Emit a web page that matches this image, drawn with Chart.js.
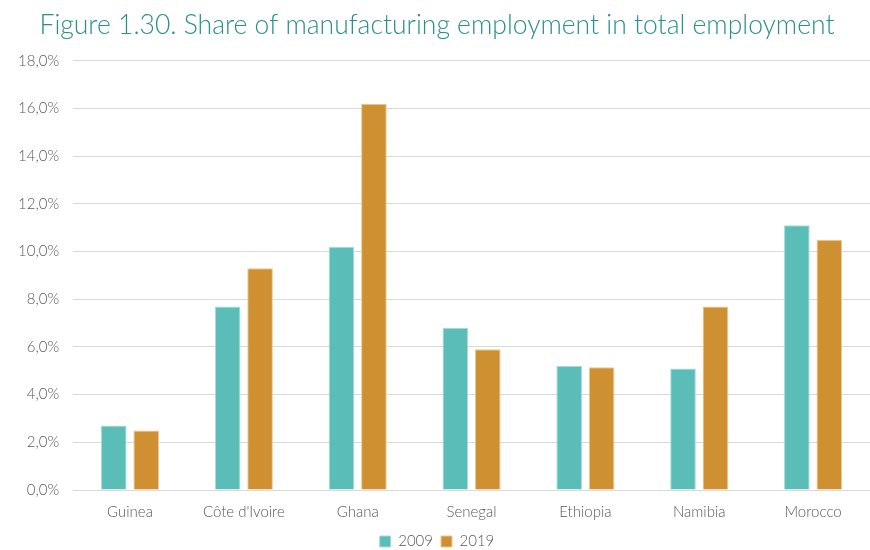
<!DOCTYPE html>
<html>
<head>
<meta charset="utf-8">
<script src="https://cdn.jsdelivr.net/npm/chart.js@4/dist/chart.umd.min.js"></script>
<style>
  html, body { margin: 0; padding: 0; background: #fff; overflow: hidden; }
  #wrap { width: 870px; height: 559px; position: relative; }
</style>
</head>
<body>
<div id="wrap"><canvas id="chart"></canvas></div>
<script>
// Countries on the category axis
const countries = ["Guinea", "Côte d'Ivoire", "Ghana", "Senegal", "Ethiopia", "Namibia", "Morocco"];
// Manufacturing employment as % of total employment
const share2009 = [2.7, 7.7, 10.2, 6.8, 5.2, 5.1, 11.1];
const share2019 = [2.5, 9.3, 16.2, 5.9, 5.15, 7.7, 10.5];
// Y axis tick range (percent)
const yMin = 0, yMax = 18, yStep = 2;

const tickFont = { family: "Lato, 'Open Sans', sans-serif", size: 15, weight: '300' };

new Chart(document.getElementById('chart'), {
  type: 'bar',
  data: {
    labels: countries,
    datasets: [
      { label: '2009', data: share2009, backgroundColor: '#5bbdb7', borderColor: '#a9dcd8', borderWidth: 1 },
      { label: '2019', data: share2019, backgroundColor: '#cf9031', borderColor: '#ecc992', borderWidth: 1 }
    ]
  },
  options: {
    responsive: true,
    maintainAspectRatio: false,
    animation: false,
    layout: { padding: { left: 4, right: 0, top: 0, bottom: 0 } },
    datasets: { bar: { categoryPercentage: 0.57, barPercentage: 0.79 } },
    plugins: {
      title: {
        display: true,
        text: 'Figure 1.30. Share of manufacturing employment in total employment',
        color: '#2a918a',
        font: { family: "Lato, 'Open Sans', sans-serif", size: 26.5, weight: '300' },
        padding: { top: 10, bottom: 19 }
      },
      legend: {
        position: 'bottom',
        labels: {
          color: '#595959',
          font: tickFont,
          boxWidth: 11,
          boxHeight: 11,
          padding: 8
        }
      },
      tooltip: { enabled: false }
    },
    scales: {
      x: {
        grid: { display: false },
        border: { display: true, color: '#d9d9d9', width: 1 },
        ticks: { color: '#595959', font: tickFont, padding: 5 }
      },
      y: {
        min: yMin,
        max: yMax,
        ticks: {
          stepSize: yStep,
          color: '#595959',
          font: tickFont,
          padding: 14,
          callback: v => v.toFixed(1).replace('.', ',') + '%'
        },
        grid: { color: '#d9d9d9', drawTicks: false },
        border: { display: false }
      }
    }
  }
});
</script>
</body>
</html>
